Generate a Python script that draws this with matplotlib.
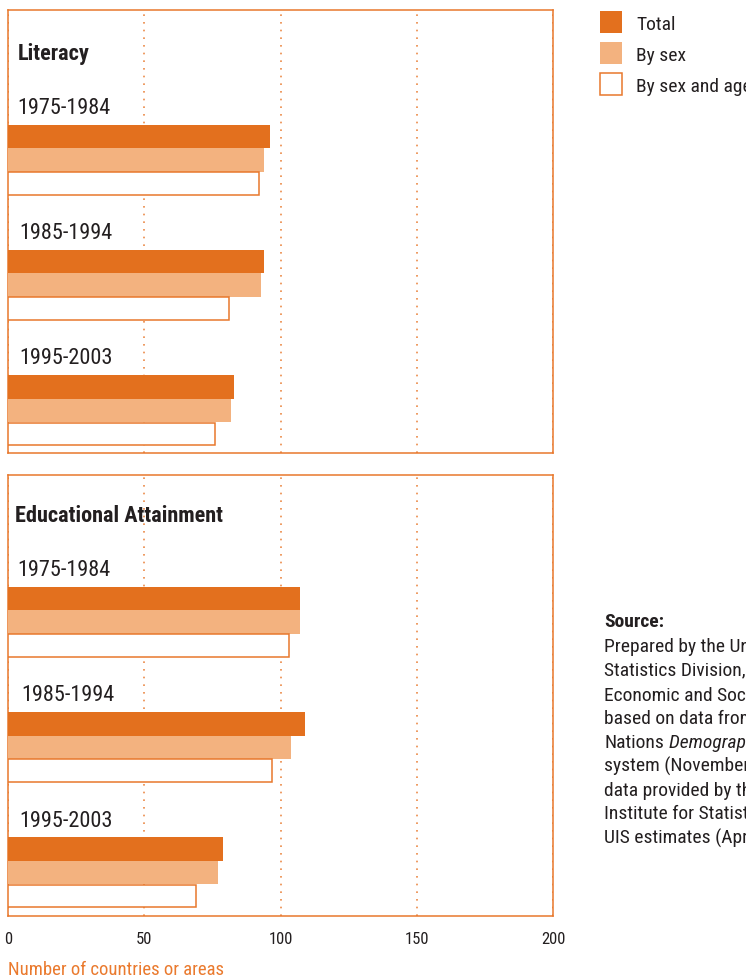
import matplotlib
matplotlib.use("Agg")
import matplotlib.pyplot as plt
import matplotlib.font_manager as fm
from matplotlib.patches import Patch
from matplotlib.transforms import blended_transform_factory
import numpy as np

# ---------------- data ----------------
periods = ['1975-1984', '1985-1994', '1995-2003']
series_names = ['Total', 'By sex', 'By sex and age']
literacy_total = [96, 94, 83]
literacy_sex = [94, 93, 82]
literacy_sex_age = [92, 81, 76]
educ_total = [107, 109, 79]
educ_sex = [107, 104, 77]
educ_sex_age = [103, 97, 69]
panel_titles = ['Literacy', 'Educational Attainment']
xticks = [0, 50, 100, 150, 200]
xlabel = 'Number of countries or areas'
source_title = 'Source:'
source_lines = [
    'Prepared by the United Nations',
    'Statistics Division, Department of',
    'Economic and Social Affairs,',
    'based on data from the United',
    'Nations',
    'system (November 2004) and',
    'data provided by the UNESCO',
    'Institute for Statistics (UIS) and',
    'UIS estimates (April 2004).',
]
source_italic = 'Demographic Yearbook'

# ---------------- fonts: look for a condensed sans ----------------
COND = ('condensed', 'semi-condensed', 'extra-condensed', 'ultra-condensed')


def _is_cond(f):
    n = (f.name + ' ' + f.fname).lower()
    return (str(f.stretch) in COND or 'narrow' in n or 'condensed' in n)


def _wt(f):
    w = f.weight
    if isinstance(w, str):
        return {'normal': 400, 'regular': 400, 'bold': 700}.get(w, 400)
    return w


def find_font(weight, style='normal'):
    prefs = ['liberation sans narrow', 'roboto condensed', 'dejavu sans',
             'noto sans', 'open sans', 'roboto', 'lato', 'inter']
    cands = [f for f in fm.fontManager.ttflist
             if _is_cond(f) and f.style == style and abs(_wt(f) - weight) <= 100
             and 'mono' not in f.name.lower() and 'serif' not in f.name.lower().replace('sans', '')]
    for p in prefs:
        for f in cands:
            if f.name.lower().startswith(p):
                return fm.FontProperties(fname=f.fname)
    if cands:
        return fm.FontProperties(fname=cands[0].fname)
    return None


reg = find_font(400)
bold = find_font(700)
ital = find_font(400, 'italic')
condensed = reg is not None
scale = 1.0 if condensed else 0.88
if reg is None:
    reg = fm.FontProperties(family=['Liberation Sans', 'DejaVu Sans'])
if bold is None:
    bold = reg.copy()
    bold.set_weight('bold')
if ital is None:
    ital = reg.copy()
    ital.set_style('italic')


def fp(base, size):
    p = base.copy()
    p.set_size(size * scale)
    return p


# ---------------- style ----------------
W, H = 746, 978
C_TOTAL = '#E3701E'
C_SEX = '#F3B27F'
C_EDGE = '#E8782C'
C_GRID = '#EB8A48'
C_TEXT = '#231F20'
C_LABEL = '#EA7A2E'

fig = plt.figure(figsize=(W / 100, H / 100), dpi=100)


def fx(px):
    return px / W


def fy(py):
    return 1 - py / H


spacing = 125.3
bar_h = 23.5 / spacing

panels = [
    dict(top=11, bottom=454, c0=160.8, title_dx=0.018,
         data=(literacy_total, literacy_sex, literacy_sex_age),
         label_dx=[0.017, 0.020, 0.021]),
    dict(top=476, bottom=917, c0=623.0, title_dx=0.012,
         data=(educ_total, educ_sex, educ_sex_age),
         label_dx=[0.018, 0.024, 0.020]),
]

for k, p in enumerate(panels):
    ax = fig.add_axes([fx(8), fy(p['bottom']), fx(553) - fx(8),
                       (p['bottom'] - p['top']) / H])
    y = np.arange(len(periods))
    tot, sex, age = p['data']
    ax.barh(y - bar_h, tot, height=bar_h, color=C_TOTAL, linewidth=0, zorder=3)
    ax.barh(y, sex, height=bar_h, color=C_SEX, linewidth=0, zorder=3)
    ax.barh(y + bar_h, age, height=bar_h * 0.97, facecolor='white',
            edgecolor=C_EDGE, linewidth=1.1, zorder=3)
    ax.set_xlim(0, 200)
    ax.set_ylim((p['bottom'] - p['c0']) / spacing, (p['top'] - p['c0']) / spacing)
    ax.set_yticks([])
    ax.set_xticks(xticks)
    ax.set_axisbelow(True)
    ax.xaxis.grid(True, color=C_GRID, linestyle=(0, (1, 3.6)), linewidth=1.2)
    for s in ax.spines.values():
        s.set_color(C_EDGE)
        s.set_linewidth(1.1)
    ax.tick_params(axis='x', length=0, pad=11, labelcolor=C_TEXT)
    for t in ax.get_xticklabels():
        t.set_fontproperties(fp(reg, 12))
    if k == 0:
        ax.tick_params(axis='x', labelbottom=False)
    trans = blended_transform_factory(ax.transAxes, ax.transData)
    ax.text(p['title_dx'], -0.806, panel_titles[k], transform=trans,
            fontproperties=fp(bold, 16), color=C_TEXT, va='baseline', ha='left')
    for i, per in enumerate(periods):
        ax.text(p['label_dx'][i], i - 0.375, per, transform=trans,
                fontproperties=fp(reg, 16), color=C_TEXT, va='baseline', ha='left')

# x label
fig.text(fx(8), fy(975), xlabel, fontproperties=fp(reg, 13.5), color=C_LABEL,
         ha='left', va='baseline')

# legend
handles = [Patch(facecolor=C_TOTAL, edgecolor='none'),
           Patch(facecolor=C_SEX, edgecolor='none'),
           Patch(facecolor='white', edgecolor=C_EDGE, linewidth=1.1)]
leg = fig.legend(handles, series_names, loc='upper left',
                 bbox_to_anchor=(fx(600), fy(12)), frameon=False,
                 prop=fp(reg, 14), handlelength=1.134, handleheight=1.368,
                 labelspacing=0.46, handletextpad=0.72, borderpad=0.0,
                 borderaxespad=0)
for t in leg.get_texts():
    t.set_color(C_TEXT)

# source note
fig.text(fx(604), fy(626.7), source_title, fontproperties=fp(bold, 14),
         color=C_TEXT, ha='left', va='baseline')
src_texts = []
for j, line in enumerate(source_lines):
    src_texts.append(fig.text(fx(604), fy(652.3 + j * 23.9), line,
                              fontproperties=fp(reg, 14), color=C_TEXT,
                              ha='left', va='baseline'))
# italic part follows the word on the same line
fig.canvas.draw()
bb = src_texts[4].get_window_extent()
space = fp(reg, 14).get_size_in_points() * 100 / 72 * 0.25
fig.text((bb.x1 + space) / W, fy(652.3 + 4 * 23.9), source_italic,
         fontproperties=fp(ital, 14), color=C_TEXT, ha='left', va='baseline')

fig.savefig('out.png', dpi=100)
